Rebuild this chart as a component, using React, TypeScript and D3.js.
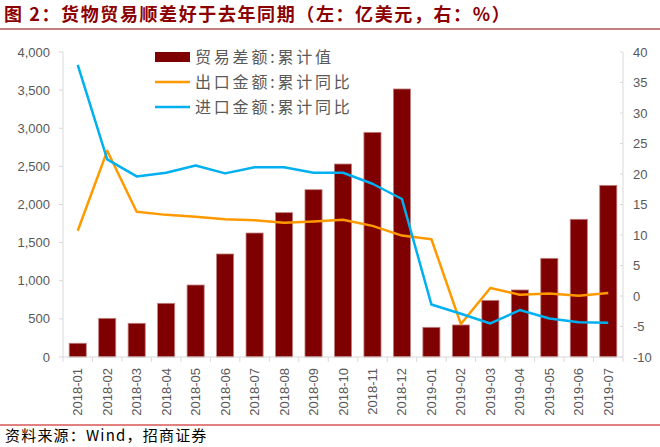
import React from "react";
import * as d3 from "d3";

const categories = ["2018-01","2018-02","2018-03","2018-04","2018-05","2018-06","2018-07","2018-08","2018-09","2018-10","2018-11","2018-12","2019-01","2019-02","2019-03","2019-04","2019-05","2019-06","2019-07"];
const tradeBalance = [180, 507, 442, 704, 944, 1351, 1626, 1893, 2194, 2531, 2946, 3515, 389, 420, 743, 879, 1294, 1806, 2251];
const exportYoY = [10.7, 23.8, 13.8, 13.3, 13.0, 12.6, 12.4, 12.0, 12.2, 12.5, 11.5, 9.9, 9.3, -4.6, 1.3, 0.2, 0.4, 0.05, 0.5];
const importYoY = [37.9, 22.4, 19.6, 20.2, 21.4, 20.1, 21.1, 21.1, 20.2, 20.2, 18.4, 15.9, -1.4, -2.9, -4.5, -2.3, -3.7, -4.3, -4.4];
const leftTicks = [0, 500, 1000, 1500, 2000, 2500, 3000, 3500, 4000];
const rightTicks = [-10, -5, 0, 5, 10, 15, 20, 25, 30, 35, 40];
const legendLabels = ["贸易差额:累计值", "出口金额:累计同比", "进口金额:累计同比"];
const titleText = "图 2：货物贸易顺差好于去年同期（左：亿美元，右：%）";
const sourceText = "资料来源：Wind，招商证券";

const W = 660, H = 447;
const plot = { left: 63, right: 623, top: 52, bottom: 357 };
const BAR = "#7f0000", ORANGE = "#FF9900", BLUE = "#00B0F0", AXIS = "#d9d9d9", TXT = "#595959";
const FONT = "'Liberation Sans', Arial, sans-serif";
const CJK = "'Noto Sans CJK SC', sans-serif";

export default function App() {
  const x = d3.scaleBand<string>().domain(categories).range([plot.left, plot.right]).paddingInner(0.42).paddingOuter(0.21);
  const xc = (c: string) => (x(c) as number) + x.bandwidth() / 2;
  const yL = d3.scaleLinear().domain([0, 4000]).range([plot.bottom, plot.top]);
  const yR = d3.scaleLinear().domain([-10, 40]).range([plot.bottom, plot.top]);
  const step = (plot.right - plot.left) / categories.length;
  const lineGen = (vals: number[]) =>
    d3.line<number>().x((_, i) => xc(categories[i])).y((v) => yR(v))(vals) as string;
  const fmt = d3.format(",");

  return (
    <div style={{ position: "fixed", left: 0, top: 0 }}>
      <svg width={W} height={H} style={{ display: "block", background: "#fff" }}>
        <text x={4} y={21} fontFamily={CJK} fontWeight="bold" fontSize={18} letterSpacing={1.6} fill="#8B0000">{titleText}</text>
        <line x1={0} x2={W} y1={29} y2={29} stroke="#8B0000" strokeWidth={1.2} />

        {/* bars */}
        {categories.map((c, i) => (
          <rect key={c} x={x(c)} width={x.bandwidth()} y={yL(tradeBalance[i])} height={yL(0) - yL(tradeBalance[i])}
            fill={BAR} stroke="#c08080" strokeWidth={0.8} />
        ))}

        {/* lines */}
        <path d={lineGen(exportYoY)} fill="none" stroke={ORANGE} strokeWidth={2.5} strokeLinejoin="round" />
        <path d={lineGen(importYoY)} fill="none" stroke={BLUE} strokeWidth={2.5} strokeLinejoin="round" />

        {/* left axis */}
        <line x1={plot.left} x2={plot.left} y1={plot.top} y2={plot.bottom} stroke={AXIS} />
        {leftTicks.map((t) => (
          <g key={t}>
            <line x1={plot.left - 4} x2={plot.left} y1={yL(t)} y2={yL(t)} stroke={AXIS} />
            <text x={50} y={yL(t) + 4.5} textAnchor="end" fontFamily={FONT} fontSize={13} fill={TXT}>{fmt(t)}</text>
          </g>
        ))}

        {/* right axis */}
        <line x1={plot.right} x2={plot.right} y1={plot.top} y2={plot.bottom} stroke={AXIS} />
        {rightTicks.map((t) => (
          <g key={t}>
            <line x1={plot.right - 3} x2={plot.right} y1={yR(t)} y2={yR(t)} stroke={AXIS} />
            <text x={633} y={yR(t) + 4.5} textAnchor="start" fontFamily={FONT} fontSize={13} fill={TXT}>{t}</text>
          </g>
        ))}

        {/* bottom axis */}
        <line x1={plot.left} x2={plot.right} y1={plot.bottom} y2={plot.bottom} stroke={AXIS} />
        {d3.range(categories.length + 1).map((i) => (
          <line key={i} x1={plot.left + i * step} x2={plot.left + i * step} y1={plot.bottom} y2={plot.bottom + 5} stroke={AXIS} />
        ))}
        {categories.map((c) => (
          <text key={c} transform={`translate(${xc(c) + 4.5},368) rotate(-90)`} textAnchor="end" fontFamily={FONT} fontSize={13} fill={TXT}>{c}</text>
        ))}

        {/* legend */}
        {legendLabels.map((l, i) => {
          const ly = 57 + i * 25;
          return (
            <g key={l}>
              {i === 0 ? (
                <rect x={155} y={ly - 5} width={35} height={10} fill={BAR} />
              ) : (
                <line x1={155} x2={190} y1={ly} y2={ly} stroke={i === 1 ? ORANGE : BLUE} strokeWidth={2.5} />
              )}
              <text x={195} y={ly + 6} fontFamily={CJK} fontSize={16} letterSpacing={2.8} fill={TXT}>{l}</text>
            </g>
          );
        })}

        {/* footer */}
        <line x1={0} x2={W} y1={425} y2={425} stroke="#C00000" strokeWidth={1} />
        <text x={5} y={441} fontFamily={CJK} fontSize={15} letterSpacing={1.2} fill="#000">{sourceText}</text>
      </svg>
    </div>
  );
}
